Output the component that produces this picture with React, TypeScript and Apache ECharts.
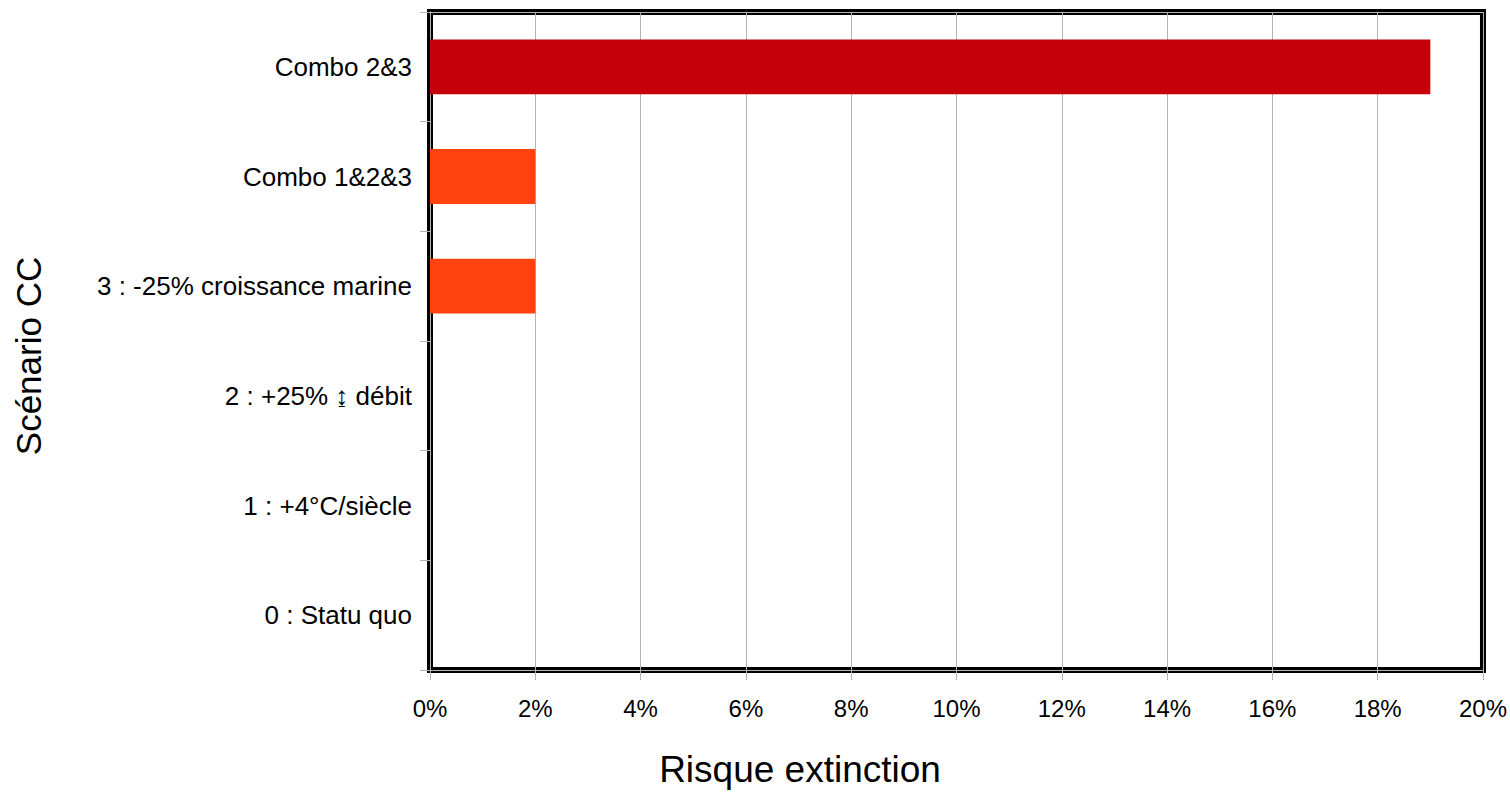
import React, { useEffect, useRef } from "react";
import * as echarts from "echarts";

const categories = [
  "0 : Statu quo",
  "1 : +4°C/siècle",
  "2 : +25% ↨ débit",
  "3 : -25% croissance marine",
  "Combo 1&2&3",
  "Combo 2&3",
];
const riskPercent = [0, 0, 0, 2, 2, 19];
const barColors = ["#ff420e", "#ff420e", "#ff420e", "#ff420e", "#ff420e", "#c5000b"];
const xMin = 0;
const xMax = 20;
const xStep = 2;
const xTitle = "Risque extinction";
const yTitle = "Scénario CC";

const FONT = "'Liberation Sans', Arial, sans-serif";
const GRAY = "#b3b3b3";

export default function App() {
  const ref = useRef<HTMLDivElement>(null);
  useEffect(() => {
    document.body.style.margin = "0";
    if (!ref.current) return;
    const chart = echarts.init(ref.current, null, { renderer: "svg" });
    chart.setOption({
      animation: false,
      backgroundColor: "#ffffff",
      grid: {
        left: 430,
        top: 12,
        right: 27,
        bottom: 122,
        show: true,
        borderColor: "#000000",
        borderWidth: 6,
        backgroundColor: "transparent",
      },
      xAxis: [
        {
          type: "value",
          min: xMin,
          max: xMax,
          interval: xStep,
          position: "bottom",
          axisLine: { show: true, lineStyle: { color: GRAY, width: 1 } },
          axisTick: { show: true, length: 10, lineStyle: { color: GRAY } },
          axisLabel: {
            formatter: "{value}%",
            fontSize: 24,
            fontFamily: FONT,
            color: "#000",
            margin: 26,
          },
          splitLine: { show: true, lineStyle: { color: GRAY, width: 1 } },
        },
        {
          type: "value",
          min: xMin,
          max: xMax,
          position: "top",
          axisLine: { show: true, lineStyle: { color: GRAY, width: 1 } },
          axisTick: { show: false },
          axisLabel: { show: false },
          splitLine: { show: false },
        },
      ],
      yAxis: [
        {
          type: "category",
          data: categories,
          position: "left",
          axisLine: { show: true, lineStyle: { color: GRAY, width: 1 } },
          axisTick: { show: true, length: 10, lineStyle: { color: GRAY } },
          axisLabel: {
            fontSize: 26,
            fontFamily: FONT,
            color: "#000",
            margin: 18,
          },
          splitLine: { show: false },
        },
        {
          type: "category",
          data: categories,
          position: "right",
          axisLine: { show: true, lineStyle: { color: GRAY, width: 1 } },
          axisTick: { show: false },
          axisLabel: { show: false },
          splitLine: { show: false },
        },
      ],
      graphic: [
        {
          type: "text",
          x: 800,
          y: 769,
          style: {
            text: xTitle,
            fontSize: 37,
            fontFamily: FONT,
            fill: "#000",
            align: "center",
            verticalAlign: "middle",
          },
        },
        {
          type: "text",
          x: 28,
          y: 356,
          rotation: Math.PI / 2,
          style: {
            text: yTitle,
            fontSize: 35,
            fontFamily: FONT,
            fill: "#000",
            align: "center",
            verticalAlign: "middle",
          },
        },
      ],
      series: [
        {
          type: "bar",
          xAxisIndex: 0,
          yAxisIndex: 0,
          barWidth: "50%",
          data: riskPercent.map((v, i) => ({
            value: v,
            itemStyle: { color: barColors[i] },
          })),
        },
      ],
    });
    return () => chart.dispose();
  }, []);
  return <div ref={ref} style={{ width: 1510, height: 792 }} />;
}
